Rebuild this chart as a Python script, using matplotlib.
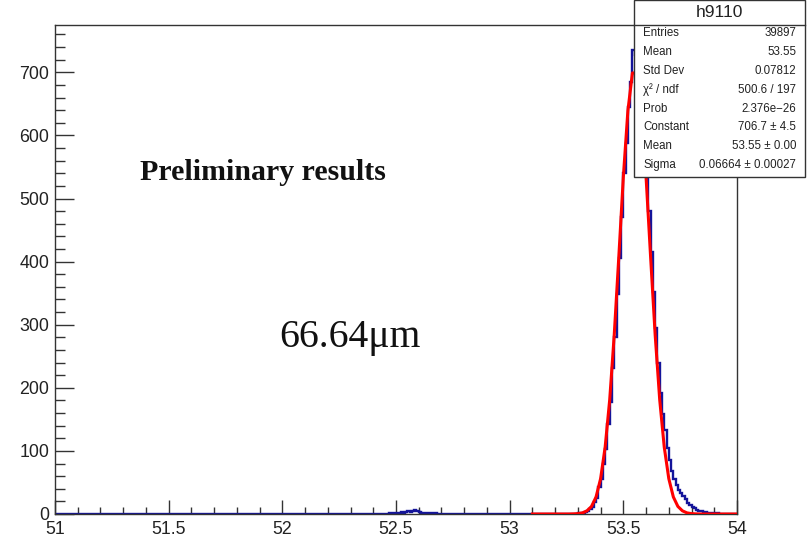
import numpy as np
import matplotlib
matplotlib.use('Agg')
import matplotlib.pyplot as plt
from matplotlib.patches import Rectangle
from matplotlib.lines import Line2D
from matplotlib.ticker import MultipleLocator, FuncFormatter

W, H = 811, 538

# histogram h9110, 0.01 wide bins (counts)
peak_start = 53.30
peak_counts = [1, 1, 2, 3, 4, 8, 11, 19, 26, 42, 55, 80, 103, 142, 178, 232, 280,
               348, 405, 470, 540, 588, 645, 685, 735, 728, 705, 680, 640, 595,
               538, 480, 415, 352, 295, 240, 192, 158, 133, 105, 85, 68, 56, 46,
               38, 33, 28, 23, 18, 14, 11, 9, 7, 5, 4, 3, 3, 2, 2, 1, 1, 1, 0]
bump_start = 52.47
bump_counts = [1, 1, 2, 1, 2, 3, 2, 3, 4, 3, 5, 6, 4, 3, 2, 2, 1, 2, 1, 1, 1]

# gaussian fit curve
fit_x = np.round(np.arange(53.10, 54.001, 0.02), 2)
fit_y = [0, 0, 0, 0, 0, 0, 0, 0, 0,
         0.2, 0.6, 1.8, 5, 12, 27, 56, 106, 181, 284, 407, 534, 639, 699,
         699, 639, 534, 407, 284, 181, 106, 56, 27, 12, 5, 1.8, 0.6, 0.2,
         0, 0, 0, 0, 0, 0, 0, 0, 0]

stat_title = 'h9110'
stat_labels = ['Entries', 'Mean', 'Std Dev', 'χ² / ndf', 'Prob',
               'Constant', 'Mean', 'Sigma']
stat_values = ['39897', '53.55', '0.07812', '500.6 / 197', '2.376e−26',
               '706.7 ± 4.5', '53.55 ± 0.00', '0.06664 ± 0.00027']


def fx(px):
    return px / W


def fy(py):
    return 1 - py / H


edges = np.round(np.linspace(51, 54, 301), 2)
hist = np.zeros(300)
i0 = int(round((peak_start - 51) / 0.01))
hist[i0:i0 + len(peak_counts)] = peak_counts
i1 = int(round((bump_start - 51) / 0.01))
hist[i1:i1 + len(bump_counts)] = bump_counts

plt.rcParams['font.family'] = ['Liberation Sans', 'DejaVu Sans']

fig = plt.figure(figsize=(W / 100, H / 100), dpi=100)
ax = fig.add_axes([fx(55), fy(514), (737 - 55) / W, (514 - 25) / H])

ax.stairs(hist, edges, color='#14149a', lw=1.7, zorder=2)
ax.plot(fit_x, fit_y, color='red', lw=2.2, zorder=3)

ax.set_xlim(51, 54)
ax.set_ylim(0, 775)
ax.xaxis.set_major_locator(MultipleLocator(0.5))
ax.xaxis.set_minor_locator(MultipleLocator(0.1))
ax.yaxis.set_major_locator(MultipleLocator(100))
ax.yaxis.set_minor_locator(MultipleLocator(20))
ax.xaxis.set_major_formatter(FuncFormatter(lambda v, p: '%g' % v))
ax.tick_params(axis='x', which='major', direction='in', length=10, width=1,
               labelsize=12.8, pad=5, colors='#333333', labelcolor='#222222')
ax.tick_params(axis='x', which='minor', direction='in', length=5, width=1,
               colors='#333333')
ax.tick_params(axis='y', which='major', direction='in', length=14, width=1,
               labelsize=12.8, pad=4, colors='#333333', labelcolor='#222222')
ax.tick_params(axis='y', which='minor', direction='in', length=7, width=1,
               colors='#333333')
for s in ax.spines.values():
    s.set_color('#333333')
    s.set_linewidth(1)

# annotations
fig.text(fx(140), fy(180), 'Preliminary results', family='Liberation Serif',
         fontweight='bold', fontsize=21.5, va='baseline', ha='left', color='#111111')
fig.text(fx(279), fy(347), '66.64μm', family='Liberation Serif',
         fontsize=28.5, va='baseline', ha='left', color='#111111')

# stats box
bx0, bx1, by0, by1 = 634, 805, 0, 177
fig.add_artist(Rectangle((fx(bx0), fy(by1)), (bx1 - bx0) / W, (by1 - by0) / H,
                         transform=fig.transFigure, facecolor='white',
                         edgecolor='#333333', lw=1, zorder=10))
fig.add_artist(Line2D([fx(bx0), fx(bx1)], [fy(25), fy(25)],
                      transform=fig.transFigure, color='#333333', lw=1, zorder=11))
fig.text(fx((bx0 + bx1) / 2), fy(12.5), stat_title, ha='center', va='center',
         fontsize=12.5, color='#222222', zorder=12)
for k, (lab, val) in enumerate(zip(stat_labels, stat_values)):
    y = fy(33 + k * 18.9)
    fig.text(fx(643), y, lab, ha='left', va='center', fontsize=8.3,
             color='#222222', zorder=12)
    fig.text(fx(796), y, val, ha='right', va='center', fontsize=8.3,
             color='#222222', zorder=12)

fig.savefig('out.png', dpi=100)
